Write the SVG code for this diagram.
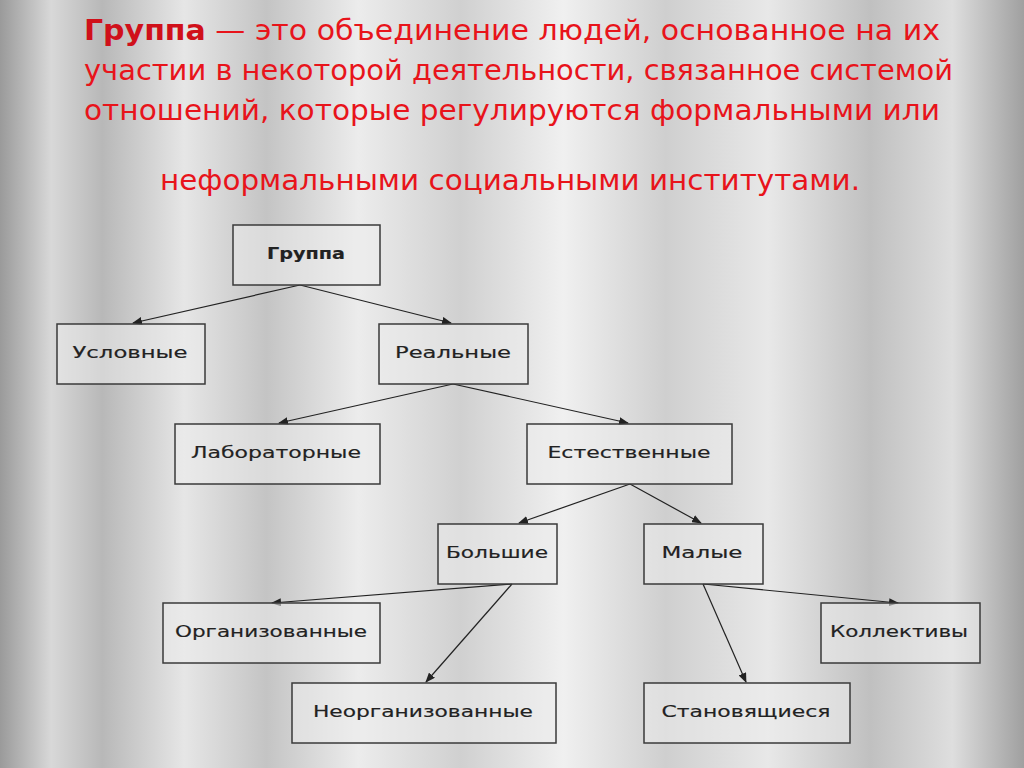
<svg xmlns="http://www.w3.org/2000/svg" width="1024" height="768" viewBox="0 0 1024 768">
<defs>
<linearGradient id="bg" x1="0" y1="0" x2="1" y2="0">
<stop offset="0" stop-color="#9a9a9a"/><stop offset="0.05" stop-color="#d8d8d8"/><stop offset="0.1" stop-color="#b8b8b8"/><stop offset="0.18" stop-color="#e6e6e6"/><stop offset="0.26" stop-color="#c4c4c4"/><stop offset="0.35" stop-color="#ececec"/><stop offset="0.45" stop-color="#d0d0d0"/><stop offset="0.55" stop-color="#f0f0f0"/><stop offset="0.65" stop-color="#cfcfcf"/><stop offset="0.75" stop-color="#e8e8e8"/><stop offset="0.85" stop-color="#c0c0c0"/><stop offset="0.93" stop-color="#dedede"/><stop offset="1" stop-color="#a0a0a0"/>
</linearGradient>
<marker id="ah" markerWidth="10" markerHeight="8" refX="9" refY="4" orient="auto" markerUnits="userSpaceOnUse"><path d="M0,0 L10,4 L0,8 z" fill="#222"/></marker>
</defs>
<style>
.b rect{fill:#ececec;fill-opacity:0.55;stroke:#3a3a3a;stroke-width:1.5}
.b text{font-family:"DejaVu Sans","Liberation Sans",sans-serif;font-size:15px;fill:#222;text-anchor:middle;stroke:#222;stroke-width:0.15}
.t{font-family:"DejaVu Sans","Liberation Sans",sans-serif;font-size:28px;fill:#e8141b}
#c line{stroke:#222;stroke-width:1.2;marker-end:url(#ah)}
</style>
<rect width="1024" height="768" fill="url(#bg)"/>
<text class="t" x="84" y="40" textLength="856" lengthAdjust="spacingAndGlyphs"><tspan font-weight="bold" fill="#d0101a">Группа</tspan> — это объединение людей, основанное на их</text>
<text class="t" x="84" y="80" textLength="869" lengthAdjust="spacingAndGlyphs">участии в некоторой деятельности, связанное системой</text>
<text class="t" x="84" y="120" textLength="856" lengthAdjust="spacingAndGlyphs">отношений, которые регулируются формальными или</text>
<text class="t" x="160" y="190" textLength="700" lengthAdjust="spacingAndGlyphs">неформальными социальными институтами.</text>
<g id="c">
<line x1="300" y1="285" x2="133" y2="323"/><line x1="300" y1="285" x2="451" y2="323"/>
<line x1="453" y1="384" x2="279" y2="423"/><line x1="453" y1="384" x2="628" y2="423"/>
<line x1="630" y1="484" x2="519" y2="523"/><line x1="630" y1="484" x2="701" y2="523"/>
<line x1="512" y1="584" x2="272" y2="603"/><line x1="512" y1="584" x2="426" y2="682"/>
<line x1="703" y1="584" x2="898" y2="603"/><line x1="703" y1="584" x2="746" y2="682"/>
</g>
<g id="n1" class="b"><rect x="233" y="225" width="147" height="60"/><text x="306" y="259" textLength="78" lengthAdjust="spacingAndGlyphs" font-weight="bold">Группа</text></g>
<g id="n2" class="b"><rect x="57" y="324" width="148" height="60"/><text x="130" y="358" textLength="115" lengthAdjust="spacingAndGlyphs">Условные</text></g>
<g id="n3" class="b"><rect x="379" y="324" width="149" height="60"/><text x="453" y="358" textLength="116" lengthAdjust="spacingAndGlyphs">Реальные</text></g>
<g id="n4" class="b"><rect x="175" y="424" width="205" height="60"/><text x="276" y="458" textLength="170" lengthAdjust="spacingAndGlyphs">Лабораторные</text></g>
<g id="n5" class="b"><rect x="527" y="424" width="205" height="60"/><text x="629" y="458" textLength="163" lengthAdjust="spacingAndGlyphs">Естественные</text></g>
<g id="n6" class="b"><rect x="438" y="524" width="119" height="60"/><text x="497" y="558" textLength="102" lengthAdjust="spacingAndGlyphs">Большие</text></g>
<g id="n7" class="b"><rect x="644" y="524" width="119" height="60"/><text x="702" y="558" textLength="81" lengthAdjust="spacingAndGlyphs">Малые</text></g>
<g id="n8" class="b"><rect x="163" y="603" width="217" height="60"/><text x="271" y="637" textLength="192" lengthAdjust="spacingAndGlyphs">Организованные</text></g>
<g id="n9" class="b"><rect x="821" y="603" width="159" height="60"/><text x="899" y="637" textLength="138" lengthAdjust="spacingAndGlyphs">Коллективы</text></g>
<g id="n10" class="b"><rect x="292" y="683" width="264" height="60"/><text x="423" y="717" textLength="220" lengthAdjust="spacingAndGlyphs">Неорганизованные</text></g>
<g id="n11" class="b"><rect x="644" y="683" width="206" height="60"/><text x="746" y="717" textLength="169" lengthAdjust="spacingAndGlyphs">Становящиеся</text></g>
</svg>
